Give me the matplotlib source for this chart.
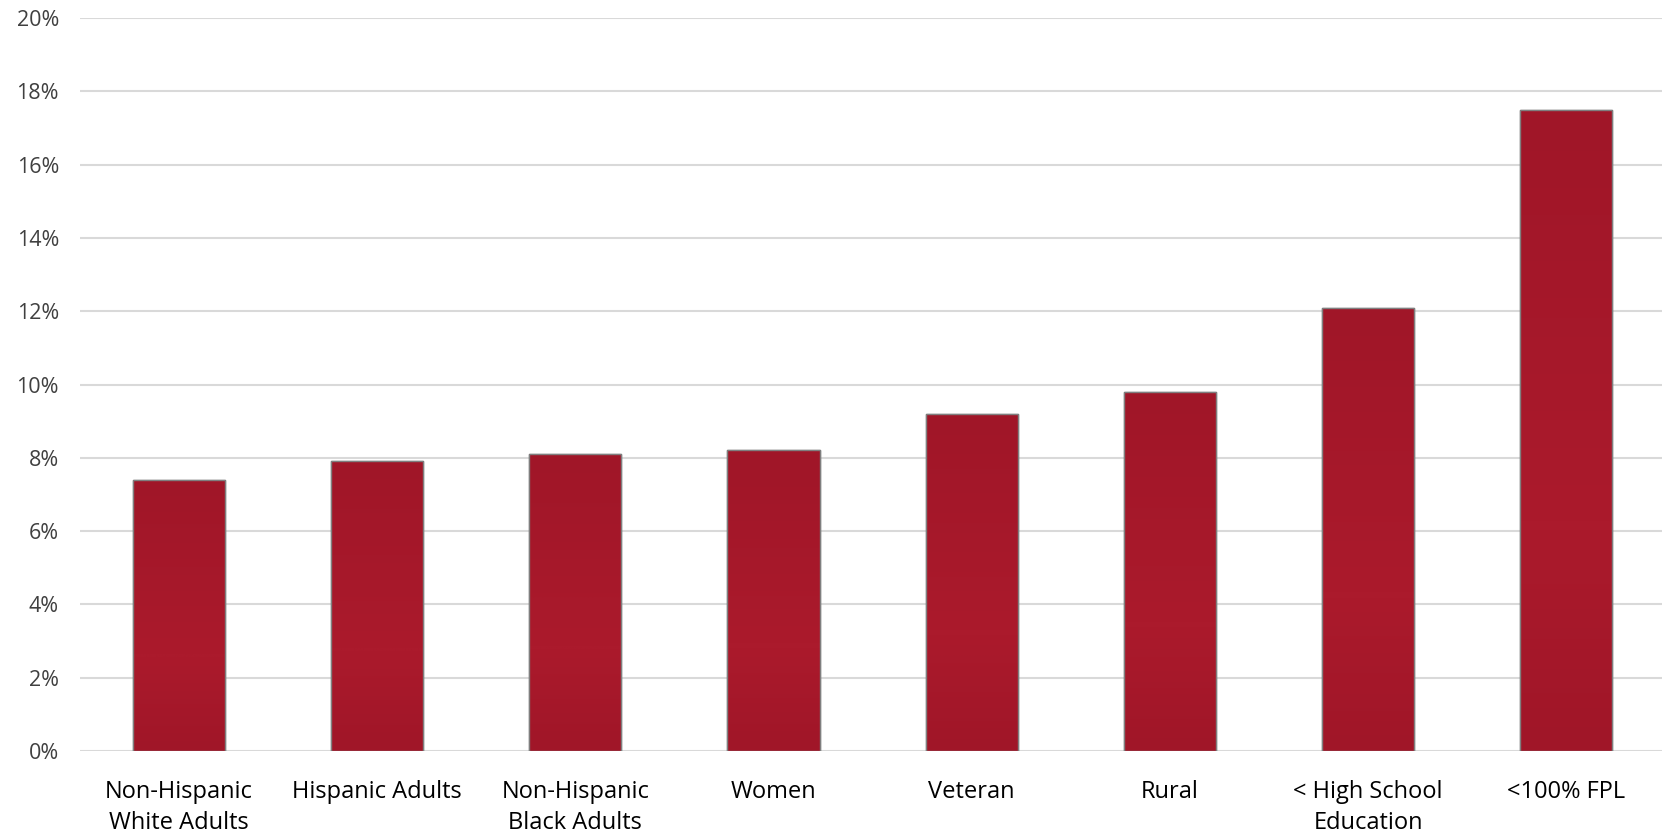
import matplotlib.pyplot as plt
import numpy as np
from matplotlib.ticker import PercentFormatter
from matplotlib.colors import LinearSegmentedColormap

# Data
categories = ['Non-Hispanic\nWhite Adults', 'Hispanic Adults', 'Non-Hispanic\nBlack Adults',
              'Women', 'Veteran', 'Rural', '< High School\nEducation', '<100% FPL']
values = [7.4, 7.9, 8.1, 8.2, 9.2, 9.8, 12.1, 17.5]
y_ticks = [0, 2, 4, 6, 8, 10, 12, 14, 16, 18, 20]

plt.rcParams['font.family'] = ['Open Sans', 'DejaVu Sans']

fig = plt.figure(figsize=(16.62, 8.35), dpi=100)
ax = fig.add_axes([0.048, 0.1006, 0.954, 0.8778])

x = np.arange(len(categories))
bars = ax.bar(x, values, width=0.465, color='#A61A2B', edgecolor='#7F7F7F',
              linewidth=1.0, zorder=2)

# Soft vertical gradient inside each bar (darker at top and bottom)
grad = np.concatenate([np.linspace(0, 1, 65), np.linspace(1, 0, 35)]).reshape(-1, 1)
cmap = LinearSegmentedColormap.from_list('barred', ['#A01628', '#AB1A2C'])
for b in bars:
    bx, by = b.get_x(), b.get_y()
    w, h = b.get_width(), b.get_height()
    im = ax.imshow(grad[::-1], cmap=cmap, aspect='auto', extent=[bx, bx + w, by, by + h],
                   origin='lower', zorder=2.1, interpolation='bilinear')
    im.set_clip_path(b)
    ax.add_patch(plt.Rectangle((bx, by), w, h, fill=False, edgecolor='#7F7F7F',
                               linewidth=1.0, zorder=2.2))

ax.set_xlim(-0.5, len(categories) - 0.5)
ax.set_ylim(0, 20)
ax.set_yticks(y_ticks)
ax.yaxis.set_major_formatter(PercentFormatter(decimals=0))
ax.set_xticks(x)
ax.set_xticklabels(categories, fontsize=17, color='#000000', linespacing=1.38)

ax.grid(axis='y', color='#D9D9D9', linewidth=1.5, zorder=0)
ax.set_axisbelow(True)
for s in ax.spines.values():
    s.set_visible(False)
ax.tick_params(axis='both', length=0)
ax.tick_params(axis='x', pad=21)
ax.tick_params(axis='y', pad=15, labelsize=15.5, labelcolor='#404040')

fig.savefig('out.png', dpi=100)
